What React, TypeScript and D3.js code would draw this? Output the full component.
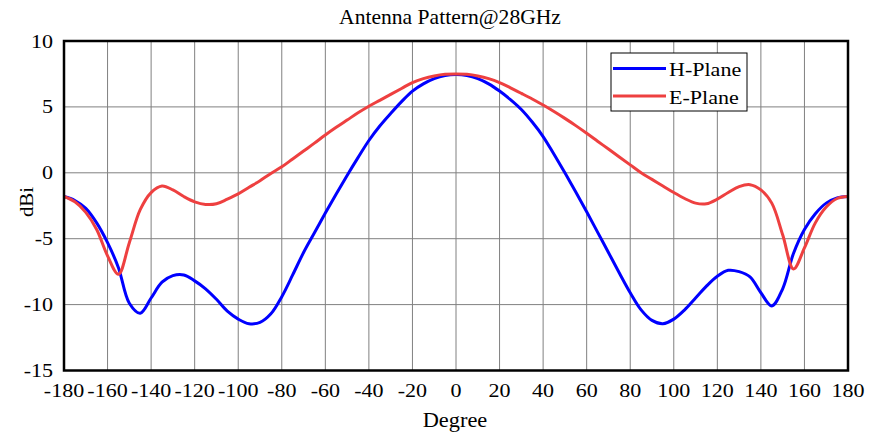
import React from 'react';
import * as d3 from 'd3';

// angle grid shared by both cuts (deg)
const degrees = d3.range(-180, 181, 5);

// H-Plane gain, dBi
const hPlane = [
  -1.8, -2.1, -2.7, -3.8, -5.3, -7.2, -9.9, -10.65, -9.5, -8.3,
  -7.8, -7.75, -8.2, -8.8, -9.6, -10.5, -11.1, -11.45, -11.35, -10.7,
  -9.4, -7.75, -6.05, -4.55, -3.05, -1.6, -0.2, 1.15, 2.45, 3.55,
  4.5, 5.4, 6.2, 6.75, 7.15, 7.38, 7.45,
  7.38, 7.15, 6.75, 6.2, 5.55, 4.8, 3.85, 2.75, 1.4, 0.0,
  -1.45, -2.95, -4.5, -6.05, -7.6, -9.1, -10.4, -11.2, -11.45, -11.1,
  -10.4, -9.5, -8.6, -7.85, -7.4, -7.5, -7.9, -9.1, -10.1, -8.8,
  -6.1, -4.3, -3.1, -2.3, -1.9, -1.8,
];

// E-Plane gain, dBi
const ePlane = [
  -1.8, -2.2, -3.0, -4.3, -6.3, -7.7, -5.3, -2.8, -1.5, -1.0,
  -1.3, -1.8, -2.2, -2.4, -2.35, -2.0, -1.6, -1.1, -0.6, -0.05,
  0.45, 1.05, 1.65, 2.25, 2.87, 3.45, 4.0, 4.55, 5.05, 5.5,
  5.95, 6.4, 6.85, 7.15, 7.35, 7.47, 7.5,
  7.47, 7.35, 7.15, 6.85, 6.45, 6.03, 5.6, 5.14, 4.65, 4.13,
  3.58, 3.0, 2.4, 1.8, 1.2, 0.6, 0.0, -0.5, -1.0, -1.5,
  -1.95, -2.3, -2.35, -2.0, -1.5, -1.05, -0.9, -1.3, -2.3, -4.7,
  -7.3, -5.7, -3.8, -2.6, -1.95, -1.8,
];

const xTicks = d3.range(-180, 181, 20);
const yTicks = [-15, -10, -5, 0, 5, 10];

const series = [
  { name: 'H-Plane', values: hPlane, color: '#0000ff' },
  { name: 'E-Plane', values: ePlane, color: '#ee4040' },
];

const W = 878;
const H = 440;
const plot = { left: 64, right: 848, top: 41, bottom: 370.5 };
const font = '"Liberation Serif", "Times New Roman", serif';

const Txt: React.FC<{ x: number; y: number; size: number; sx?: number; anchor?: string; rotate?: number; children: React.ReactNode }> = ({
  x, y, size, sx = 1.14, anchor = 'middle', rotate = 0, children,
}) => (
  <text
    transform={`translate(${x},${y}) rotate(${rotate}) scale(${sx},1)`}
    textAnchor={anchor}
    fontFamily={font}
    fontSize={size}
    fill="#000"
  >
    {children}
  </text>
);

export default function App() {
  const x = d3.scaleLinear().domain([-180, 180]).range([plot.left, plot.right]);
  const y = d3.scaleLinear().domain([-15, 10]).range([plot.bottom, plot.top]);

  const line = d3.line<number>()
    .x((_, i) => x(degrees[i]))
    .y(d => y(d))
    .curve(d3.curveCatmullRom.alpha(0.5));

  const legend = { x: 611, y: 53, w: 136, h: 58 };

  return (
    <svg width={W} height={H} style={{ position: 'absolute', left: 0, top: 0, background: '#fff' }}>
      {/* grid */}
      {xTicks.map(t => (
        <line key={`gx${t}`} x1={x(t)} x2={x(t)} y1={plot.top} y2={plot.bottom} stroke="#808080" strokeWidth={1} />
      ))}
      {yTicks.map(t => (
        <line key={`gy${t}`} x1={plot.left} x2={plot.right} y1={y(t)} y2={y(t)} stroke="#808080" strokeWidth={1} />
      ))}

      {/* curves */}
      {series.map(s => (
        <path key={s.name} d={line(s.values) || ''} fill="none" stroke={s.color} strokeWidth={3} strokeLinejoin="round" />
      ))}

      {/* frame */}
      <rect
        x={plot.left}
        y={plot.top}
        width={plot.right - plot.left}
        height={plot.bottom - plot.top}
        fill="none"
        stroke="#000"
        strokeWidth={2.5}
      />

      {/* tick labels */}
      {xTicks.map(t => (
        <Txt key={`tx${t}`} x={x(t)} y={397} size={19} sx={1.16}>{t}</Txt>
      ))}
      {yTicks.map(t => (
        <Txt key={`ty${t}`} x={53} y={y(t) + 6.5} size={19} sx={1.16} anchor="end">{t}</Txt>
      ))}

      {/* titles */}
      <Txt x={450} y={24} size={20} sx={1.08}>Antenna Pattern@28GHz</Txt>
      <Txt x={455} y={427} size={20} sx={1.12}>Degree</Txt>
      <Txt x={33} y={202} size={19} sx={1.1} rotate={-90}>dBi</Txt>

      {/* legend */}
      <rect x={legend.x} y={legend.y} width={legend.w} height={legend.h} fill="#fff" stroke="#000" strokeWidth={1} />
      {series.map((s, i) => {
        const ly = legend.y + 15.5 + i * 27.5;
        return (
          <g key={s.name}>
            <line x1={legend.x + 2} x2={legend.x + 55} y1={ly} y2={ly} stroke={s.color} strokeWidth={3} />
            <Txt x={legend.x + 58} y={ly + 7.5} size={19} sx={1.16} anchor="start">{s.name}</Txt>
          </g>
        );
      })}
    </svg>
  );
}
